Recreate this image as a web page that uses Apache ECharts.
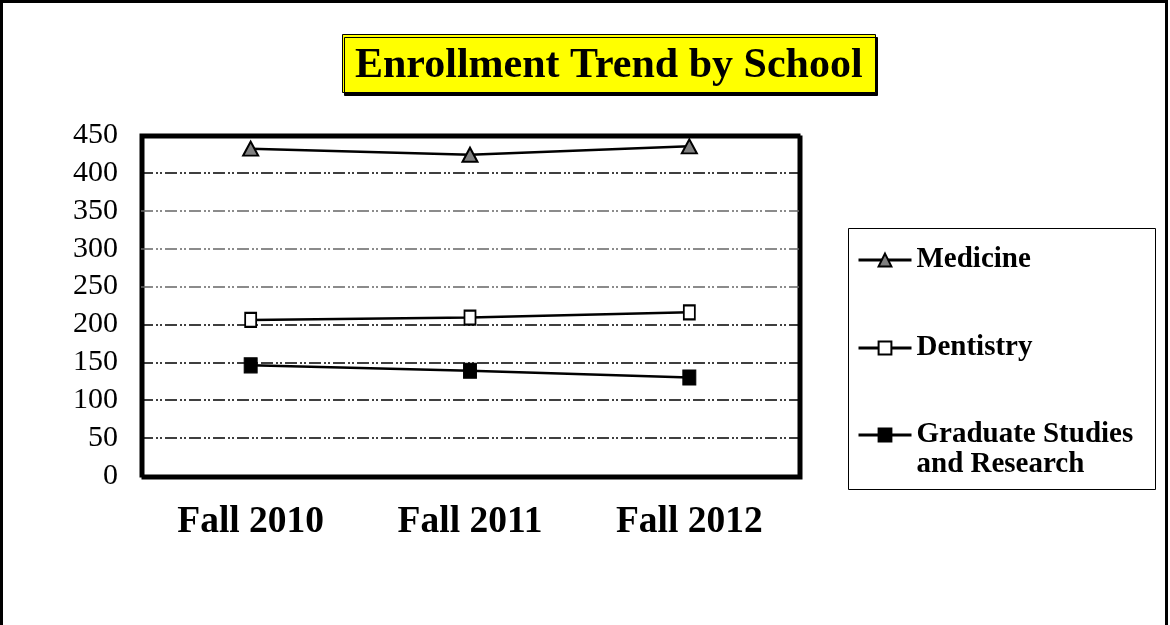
<!DOCTYPE html>
<html>
<head>
<meta charset="utf-8">
<script src="https://cdn.jsdelivr.net/npm/echarts@6/dist/echarts.min.js"></script>
<style>
  html, body { margin: 0; padding: 0; background: #fff; }
  #chart { width: 1170px; height: 625px; }
</style>
</head>
<body>
<div id="chart"></div>
<script>
// data
const terms = ['Fall 2010', 'Fall 2011', 'Fall 2012']
const medicine = [432, 424, 435]
const dentistry = [206, 209, 216]
const graduate = [146, 139, 130]
const yTicks = { min: 0, max: 450, step: 50 }

const serif = "'Liberation Serif', 'Times New Roman', serif"
const gridColors = ['#000', '#000', '#000', '#000', '#000', '#666', '#666', '#666', '#000', '#000']

const myChart = echarts.init(document.getElementById('chart'))

function legendFor(name, top, extra) {
  return Object.assign({
    data: [name],
    orient: 'vertical',
    left: 857,
    top: top,
    padding: 0,
    itemWidth: 53,
    itemHeight: 16,
    selectedMode: false,
    lineStyle: { width: 3 },
    textStyle: {
      fontFamily: serif,
      fontSize: 29,
      fontWeight: 'bold',
      color: '#000',
      lineHeight: 30
    }
  }, extra || {})
}

const option = {
  backgroundColor: '#fff',
  animation: false,
  title: {
    text: 'Enrollment Trend by School',
    left: 342,
    top: 35,
    padding: [11, 13, 5, 13],
    backgroundColor: '#ffff00',
    borderColor: '#000',
    borderWidth: 1,
    shadowColor: '#000',
    shadowOffsetX: 2,
    shadowOffsetY: 3,
    textStyle: {
      fontFamily: serif,
      fontSize: 42,
      fontWeight: 'bold',
      color: '#000',
      lineHeight: 41
    }
  },
  graphic: [
    // page frame
    { type: 'rect', shape: { x: 1.5, y: 1.5, width: 1165, height: 700 }, style: { fill: 'none', stroke: '#000', lineWidth: 3 }, silent: true },
    // legend box
    { type: 'rect', shape: { x: 848.5, y: 228.5, width: 307, height: 261 }, style: { fill: '#fff', stroke: '#000', lineWidth: 1 }, silent: true, z: -1 }
  ],
  legend: [
    legendFor('Medicine', 245),
    legendFor('Dentistry', 333),
    // blank first line keeps the symbol level with "Graduate Studies"
    legendFor('Graduate Studies and Research', 390, {
      formatter: function() { return ' \nGraduate Studies\nand Research' }
    })
  ],
  grid: {
    left: 141,
    top: 135,
    right: 371,
    bottom: 149,
    show: true,
    borderColor: '#000',
    borderWidth: 3,
    shadowColor: '#000',
    shadowOffsetX: 2,
    shadowOffsetY: 2
  },
  xAxis: {
    type: 'category',
    data: terms,
    boundaryGap: true,
    axisLine: { show: false },
    axisTick: { show: false },
    axisLabel: {
      margin: 27,
      fontFamily: serif,
      fontSize: 37.5,
      fontWeight: 'bold',
      color: '#000'
    }
  },
  yAxis: {
    type: 'value',
    min: yTicks.min,
    max: yTicks.max,
    interval: yTicks.step,
    axisLine: { show: false },
    axisTick: { show: false },
    axisLabel: {
      margin: 23,
      fontFamily: serif,
      fontSize: 30,
      color: '#000'
    },
    splitLine: {
      lineStyle: {
        color: gridColors,
        width: 1.5,
        type: [12, 3, 2, 2, 2, 3]
      }
    }
  },
  series: [
    {
      name: 'Medicine',
      type: 'line',
      data: medicine,
      symbol: 'triangle',
      symbolSize: [15, 14],
      lineStyle: { color: '#000', width: 2.5 },
      itemStyle: { color: '#808080', borderColor: '#000', borderWidth: 2 }
    },
    {
      name: 'Dentistry',
      type: 'line',
      data: dentistry,
      symbol: 'rect',
      symbolSize: [11, 14],
      lineStyle: { color: '#000', width: 2.5 },
      itemStyle: { color: '#fff', borderColor: '#000', borderWidth: 2 }
    },
    {
      name: 'Graduate Studies and Research',
      type: 'line',
      data: graduate,
      symbol: 'rect',
      symbolSize: [13, 15],
      lineStyle: { color: '#000', width: 2.5 },
      itemStyle: { color: '#000', borderColor: '#000', borderWidth: 1 }
    }
  ]
}

myChart.setOption(option)
</script>
</body>
</html>
